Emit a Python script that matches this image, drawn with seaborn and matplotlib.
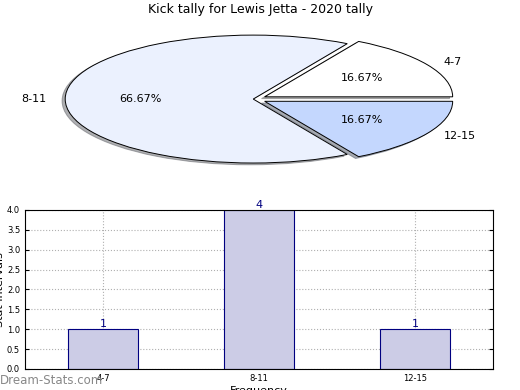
import matplotlib
matplotlib.use('Agg')
import matplotlib.pyplot as plt
import seaborn as sns
import pandas as pd

# Datos del gráfico
categorias = ['4-7', '8-11', '12-15']
conteos = [1, 4, 1]
colores_pie = ['#ffffff', '#ebf1fe', '#c4d7fe']
titulo = 'Kick tally for Lewis Jetta - 2020 tally'
y_ticks = [0.0, 0.5, 1.0, 1.5, 2.0, 2.5, 3.0, 3.5, 4.0]

df = pd.DataFrame({'Intervalo': categorias, 'Conteo': conteos})

fig = plt.figure(figsize=(5.2, 3.9), dpi=100)
plt.rcParams['font.family'] = ['DejaVu Sans']

# Pie superior (elipse, sin aspecto igual)
ax1 = fig.add_axes([0.035, 0.541, 0.904, 0.41])
ax1.pie(conteos, labels=categorias, colors=colores_pie, autopct='%.2f%%',
        startangle=0, explode=(0.07, 0, 0.07),
        shadow={'ox': -0.012, 'oy': -0.02, 'shade': 0.6},
        wedgeprops={'edgecolor': 'black', 'linewidth': 0.7},
        textprops={'fontsize': 8})
ax1.set_aspect('auto')
ax1.set_xlim(-1.25, 1.25)
ax1.set_ylim(-1.25, 1.25)
fig.text(0.5, 1 - 10 / 390, titulo, ha='center', va='center', fontsize=9)

# Barras inferiores
ax2 = fig.add_axes([0.048, 0.054, 0.9, 0.4077])
sns.barplot(data=df, x='Intervalo', y='Conteo', ax=ax2, width=0.45,
            color='#cccce6', edgecolor='#000080', linewidth=0.8,
            saturation=1)
for i, v in enumerate(conteos):
    ax2.text(i, v, str(v), ha='center', va='bottom', color='#000080', fontsize=8)
ax2.set_xlim(-0.5, 2.5)
ax2.set_ylim(0, 4)
ax2.set_yticks(y_ticks)
ax2.set_yticklabels([f'{t:.1f}' for t in y_ticks])
ax2.grid(True, linestyle=':', color='#b0b0b0', linewidth=0.8)
ax2.set_axisbelow(True)
ax2.tick_params(labelsize=6, direction='in', right=True, top=False, length=3)
ax2.set_xlabel('Frequency', fontsize=8, labelpad=2)
ax2.set_ylabel('Stat Intervals', fontsize=8, labelpad=1)
fig.text(0.0, 1 - 380 / 390, 'Dream-Stats.com', ha='left', va='center',
         fontsize=8.5, color='#888888')

fig.savefig('out.png', dpi=100)
